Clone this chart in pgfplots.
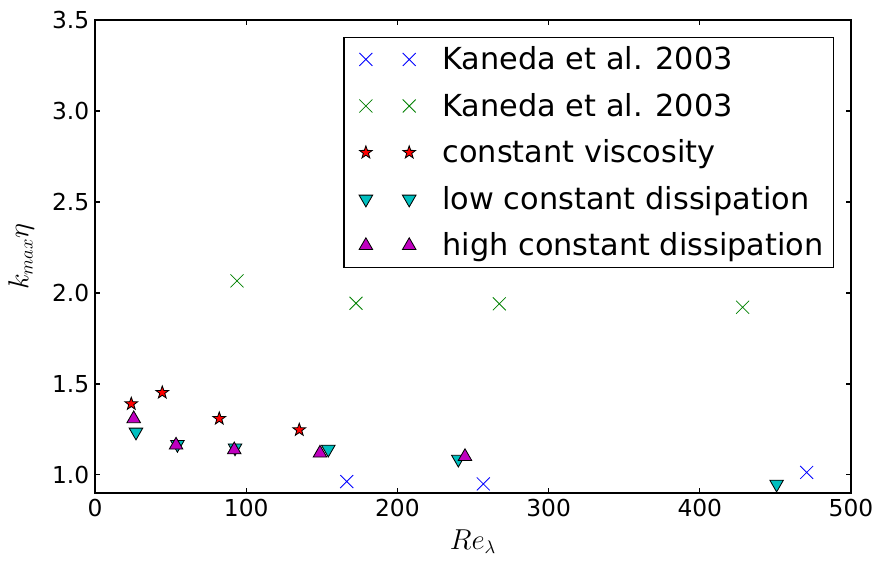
\documentclass[border=0pt]{standalone}
\usepackage{pgfplots}
\pgfplotsset{compat=1.18}
\usepackage{fontspec}
\setmainfont{DejaVu Sans}
\usetikzlibrary{calc}

\definecolor{mplgreen}{rgb}{0,0.5,0}
\definecolor{mplcyan}{rgb}{0,0.75,0.75}
\definecolor{mplmag}{rgb}{0.75,0,0.75}

% filled five-pointed star, like matplotlib's '*'
\pgfdeclareplotmark{fstar}{%
  \pgfpathmoveto{\pgfqpointpolar{90}{\pgfplotmarksize}}%
  \foreach \a in {1,...,9}{%
    \pgfmathsetmacro\ang{90+36*\a}%
    \ifodd\a
      \pgfpathlineto{\pgfqpointpolar{\ang}{0.4\pgfplotmarksize}}%
    \else
      \pgfpathlineto{\pgfqpointpolar{\ang}{\pgfplotmarksize}}%
    \fi}%
  \pgfpathclose
  \pgfusepathqfillstroke}

\begin{document}
\begin{tikzpicture}
\begin{axis}[
  name=ax,
  scale only axis,
  width=453.6pt, height=283.8pt,
  xmin=0, xmax=500, ymin=0.9, ymax=3.5,
  xtick={0,100,...,500},
  ytick={1.0,1.5,...,3.5},
  yticklabel style={/pgf/number format/.cd, fixed, fixed zerofill, precision=1},
  /pgf/number format/assume math mode=true,
  tick label style={font=\fontsize{14}{17}\selectfont},
  label style={font=\fontsize{16}{19}\selectfont},
  tick align=inside,
  major tick length=3pt,
  axis line style={line width=1pt},
  every tick/.style={black, line width=0.8pt},
  xlabel={$Re_\lambda$},
  ylabel={$k_{max}\eta$},
  xlabel style={yshift=-1pt},
  ylabel style={yshift=4pt},
  legend cell align=left,
  legend style={at={(rel axis cs:1,1)}, anchor=north east, xshift=-10pt, yshift=-10pt,
    draw=black, line width=1pt, font=\fontsize{18.2}{21}\selectfont,
    inner xsep=4pt, inner ysep=3.5pt, row sep=8.6pt},
  legend image code/.code={
    \path[draw=none, fill=none] (-9pt,0pt) -- (44pt,0pt);
    \draw[#1] plot coordinates {(0pt,0pt)};
    \draw[#1] plot coordinates {(26pt,0pt)};},
]
\addplot[only marks, blue, mark=x, mark size=5.5pt, mark options={line width=0.5pt}]
  coordinates {(166.5,0.963)(256.8,0.950)(470.7,1.013)};
\addlegendentry{Kaneda et al. 2003}
\addplot[only marks, mplgreen, mark=x, mark size=5.5pt, mark options={line width=0.5pt}]
  coordinates {(93.9,2.066)(172.6,1.943)(267.4,1.940)(428.3,1.921)};
\addlegendentry{Kaneda et al. 2003}
\addplot[only marks, mark=fstar, mark size=4pt, mark options={draw=black, fill=red, line width=0.5pt}]
  coordinates {(24.0,1.390)(44.5,1.452)(82.2,1.309)(135.1,1.247)};
\addlegendentry{constant viscosity}
\addplot[only marks, mark=triangle*, mark size=4.7pt, mark options={draw=black, fill=mplcyan, line width=0.5pt, rotate=180}]
  coordinates {(27.1,1.235)(54.5,1.167)(92.6,1.148)(154.3,1.141)(240.3,1.086)(450.8,0.949)};
\addlegendentry{low constant dissipation}
\addplot[only marks, mark=triangle*, mark size=4.7pt, mark options={draw=black, fill=mplmag, line width=0.5pt}]
  coordinates {(25.6,1.308)(53.6,1.163)(92.1,1.137)(148.8,1.119)(244.7,1.100)};
\addlegendentry{high constant dissipation}
\end{axis}
\pgfresetboundingbox
\path[use as bounding box] ($(ax.south west)+(-57pt,-42pt)$) rectangle ($(ax.north east)+(15.6pt,12pt)$);
\end{tikzpicture}
\end{document}
